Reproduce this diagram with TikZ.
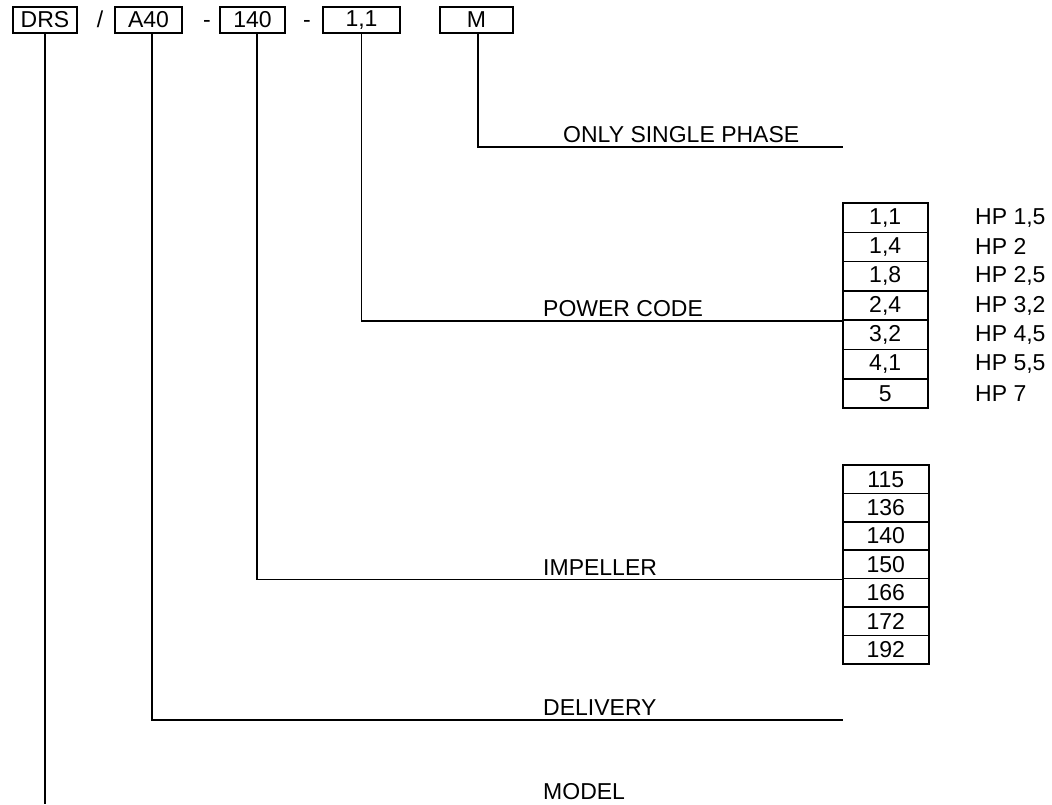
\documentclass[tikz,border=0pt]{standalone}
\usepackage{fontspec}
\setmainfont{Liberation Sans}
\usepackage{tikz}
\usetikzlibrary{calc}
\tikzset{
  code/.style={font=\fontsize{23}{27}\selectfont, inner sep=0pt},
  topbox/.style={code, draw, line width=1.6pt, minimum height=26pt},
  rowbox/.style={code, draw, line width=1.6pt, minimum width=85pt},
  lbl/.style={code, anchor=base west},
  wire/.style={line width=1.6pt}
}

\begin{document}
\begin{tikzpicture}[x=1pt,y=-1pt]
    \useasboundingbox (0,0) rectangle (1052,804);
    \node[topbox, minimum width=64pt] (drs) at (45,20) {DRS};
    \node[topbox, minimum width=67pt] (dlv) at (148.5,20) {A40};
    \node[topbox, minimum width=65pt] (imp) at (252.5,20) {140};
    \node[topbox, minimum width=77pt] (pwr) at (361.5,20) {1,1};
    \node[topbox, minimum width=73pt] (mono) at (476.5,20) {M};
    \node[code, anchor=base] (sl) at (drs.base -| 100,0) {/};
    \node[code, anchor=base] (d1) at (drs.base -| 207,0) {-};
    \node[code, anchor=base] (d2) at (drs.base -| 307,0) {-};

    % power code table
    \foreach \v/\hp [count=\i] in {{1,1}/{HP 1,5}, {1,4}/{HP 2}, {1,8}/{HP 2,5}, {2,4}/{HP 3,2}, {3,2}/{HP 4,5}, {4,1}/{HP 5,5}, {5}/{HP 7}} {
      \node[rowbox, minimum height=29.3pt] (p\i) at (885.2,{203+29.3*(\i-0.5)}) {\v};
      \node[code, anchor=west] (hp\i) at (975,{203+29.3*(\i-0.5)}) {\hp};
    }
    % impeller table
    \foreach \v [count=\i] in {115,136,140,150,166,172,192} {
      \node[rowbox, minimum width=86pt, minimum height=28.4pt] (i\i) at (885.8,{465+28.4*(\i-0.5)}) {\v};
    }

    \node[lbl] (lsingle) at (563,142) {ONLY SINGLE PHASE};
    \node[lbl] (lpower) at (543,316) {POWER CODE};
    \node[lbl] (limp) at (543,575) {IMPELLER};
    \node[lbl] (ldlv) at (543,715) {DELIVERY};
    \node[lbl] (lmodel) at (543,799) {MODEL};

    \coordinate (sglend) at (843,147);
    \coordinate (dlvend) at (843,720);
    \coordinate (mdlend) at (45,804);

    \draw[wire] ([xshift=1.5pt]mono.south) |- (sglend);
    \draw[wire] (pwr.south) |- (p4.south west);
    \draw[wire] ([xshift=4.5pt]imp.south) |- (i4.south west);
    \draw[wire] ([xshift=3.5pt]dlv.south) |- (dlvend);
    \draw[wire] (drs.south) -- (mdlend);
  \end{tikzpicture}
\end{document}
